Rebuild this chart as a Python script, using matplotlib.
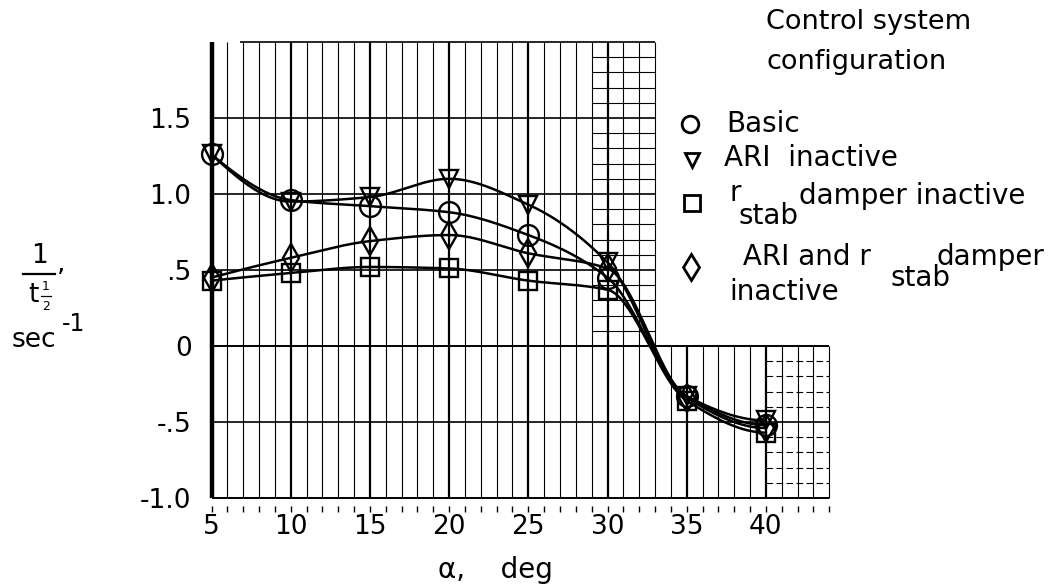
import numpy as np
import matplotlib
matplotlib.use('Agg')
import matplotlib.pyplot as plt
from matplotlib.lines import Line2D

# ---- data ----
alpha = [5, 10, 15, 20, 25, 30, 35, 40]
basic = [1.26, 0.96, 0.92, 0.88, 0.73, 0.45, -0.33, -0.52]
ari_inactive = [1.26, 0.95, 0.98, 1.10, 0.93, 0.55, -0.33, -0.49]
rstab_inactive = [0.43, 0.48, 0.52, 0.51, 0.43, 0.37, -0.36, -0.57]
ari_rstab_inactive = [0.45, 0.58, 0.69, 0.73, 0.61, 0.51, -0.34, -0.54]

xticks = [5, 10, 15, 20, 25, 30, 35, 40]
xticklabels = ['5', '10', '15', '20', '25', '30', '35', '40']
yticks = [-1.0, -0.5, 0.0, 0.5, 1.0, 1.5]
yticklabels = ['-1.0', '-.5', '0', '.5', '1.0', '1.5']

W, H = 1048, 588
plt.rcParams['font.family'] = ['DejaVu Sans']


def pchip(x, y, xs):
    """Monotone cubic Hermite fairing (Fritsch-Carlson)."""
    x = np.asarray(x, float)
    y = np.asarray(y, float)
    n = len(x)
    h = np.diff(x)
    delta = np.diff(y) / h
    m = np.zeros(n)
    for i in range(1, n - 1):
        if delta[i - 1] * delta[i] > 0:
            w1 = 2 * h[i] + h[i - 1]
            w2 = h[i] + 2 * h[i - 1]
            m[i] = (w1 + w2) / (w1 / delta[i - 1] + w2 / delta[i])
        else:
            m[i] = 0.0

    def end(h0, h1, d0, d1):
        d = ((2 * h0 + h1) * d0 - h0 * d1) / (h0 + h1)
        if np.sign(d) != np.sign(d0):
            d = 0.0
        elif np.sign(d0) != np.sign(d1) and abs(d) > abs(3 * d0):
            d = 3 * d0
        return d

    m[0] = end(h[0], h[1], delta[0], delta[1])
    m[-1] = end(h[-1], h[-2], delta[-1], delta[-2])
    idx = np.clip(np.searchsorted(x, xs) - 1, 0, n - 2)
    t = (xs - x[idx]) / h[idx]
    h00 = 2 * t ** 3 - 3 * t ** 2 + 1
    h10 = t ** 3 - 2 * t ** 2 + t
    h01 = -2 * t ** 3 + 3 * t ** 2
    h11 = t ** 3 - t ** 2
    return (h00 * y[idx] + h10 * h[idx] * m[idx]
            + h01 * y[idx + 1] + h11 * h[idx] * m[idx + 1])


fig = plt.figure(figsize=(W / 100, H / 100), dpi=100)
fig.patch.set_facecolor('white')
ax = fig.add_axes([0.18674, 0.14014, 0.61966, 0.85306])
ax.set_xlim(4, 45)
ax.set_ylim(-1.05, 2.25)
for s in ax.spines.values():
    s.set_visible(False)

# ---- graph paper ----
gk = dict(colors='black', zorder=1)
for xv in range(5, 34):
    lw = 3.2 if xv == 5 else (1.6 if xv % 5 == 0 else 0.8)
    ax.vlines(xv, -1.0, 2.0, linewidth=lw, **gk)
for xv in range(34, 45):
    lw = 1.6 if xv % 5 == 0 else 0.8
    ax.vlines(xv, -1.0, 0.0, linewidth=lw, **gk)
ax.hlines([0.5, 1.0, 1.5], 5, 33, linewidth=1.2, **gk)
ax.hlines(2.0, 6.8, 33, linewidth=1.2, **gk)
ax.hlines([0.0, -1.0], 5, 44, linewidth=1.4, **gk)
ax.hlines(-0.5, 5, 44, linewidth=1.2, **gk)
for k in range(1, 20):
    if k % 5:
        ax.hlines(k / 10, 29, 33, linewidth=0.8, **gk)
for k in range(1, 10):
    if k % 5:
        ax.hlines(-k / 10, 40, 44, linewidth=0.8, linestyles=(0, (6, 3)), **gk)

# ---- ticks ----
ax.set_xticks(xticks, xticklabels)
ax.set_xticks(range(5, 45), minor=True)
ax.tick_params(axis='x', which='both', direction='out', length=4, width=1,
               pad=2, labelsize=19)
ax.set_yticks(yticks, yticklabels)
ax.tick_params(axis='y', length=0, pad=3, labelsize=19)

# ---- curves and symbols ----
xs = np.linspace(alpha[0], alpha[-1], 500)
series = [(basic, 'o', 15), (ari_inactive, 'v', 13),
          (rstab_inactive, 's', 13), (ari_rstab_inactive, 'd', 14)]
for vals, mk, ms in series:
    ax.plot(xs, pchip(alpha, vals, xs), color='black', lw=1.8, zorder=3)
    ax.plot(alpha, vals, linestyle='none', marker=mk, markersize=ms,
            markerfacecolor='none', markeredgecolor='black',
            markeredgewidth=1.7, zorder=4)


def fx(px):
    return px / W


def fy(py):
    return 1 - py / H


def ftext(px, py, s, size=20, ha='left', va='center'):
    fig.text(fx(px), fy(py), s, fontsize=size, ha=ha, va=va, color='black')


# ---- axis labels ----
ftext(438, 570, 'α,    deg', size=20)
ftext(40, 256, '1', size=19, ha='center')
fig.add_artist(Line2D([fx(23), fx(55)], [fy(274), fy(274)], color='black',
                      lw=1.6, transform=fig.transFigure))
ftext(33, 295, 't', size=19, ha='center')
ftext(46, 286, '1', size=9, ha='center')
ftext(46, 306, '2', size=9, ha='center')
fig.add_artist(Line2D([fx(41), fx(51)], [fy(296), fy(296)], color='black',
                      lw=0.9, transform=fig.transFigure))
ftext(57, 264, ',', size=19)
ftext(34, 340, 'sec', size=19, ha='center')
ftext(62, 324, '-1', size=17)

# ---- legend ----
ftext(766, 22, 'Control system', size=19.5)
ftext(766, 62, 'configuration', size=19.5)
leg = [(690, 124, 'o', 12), (692, 160, 'v', 10), (692, 203, 's', 11),
       (691, 267, 'd', 13)]
for px, py, mk, ms in leg:
    fig.add_artist(Line2D([fx(px)], [fy(py)], marker=mk, markersize=ms,
                          markerfacecolor='none', markeredgecolor='black',
                          markeredgewidth=2.0, linestyle='none',
                          transform=fig.transFigure))
ftext(726, 124, 'Basic')
ftext(724, 158, 'ARI  inactive')
ftext(729, 193, 'r')
ftext(738, 216, 'stab')
ftext(799, 196, 'damper inactive')
ftext(734, 257, ' ARI and r')
ftext(891, 278, 'stab')
ftext(937, 257, 'damper')
ftext(729, 292, 'inactive')

fig.savefig('out.png', dpi=100, facecolor='white')
